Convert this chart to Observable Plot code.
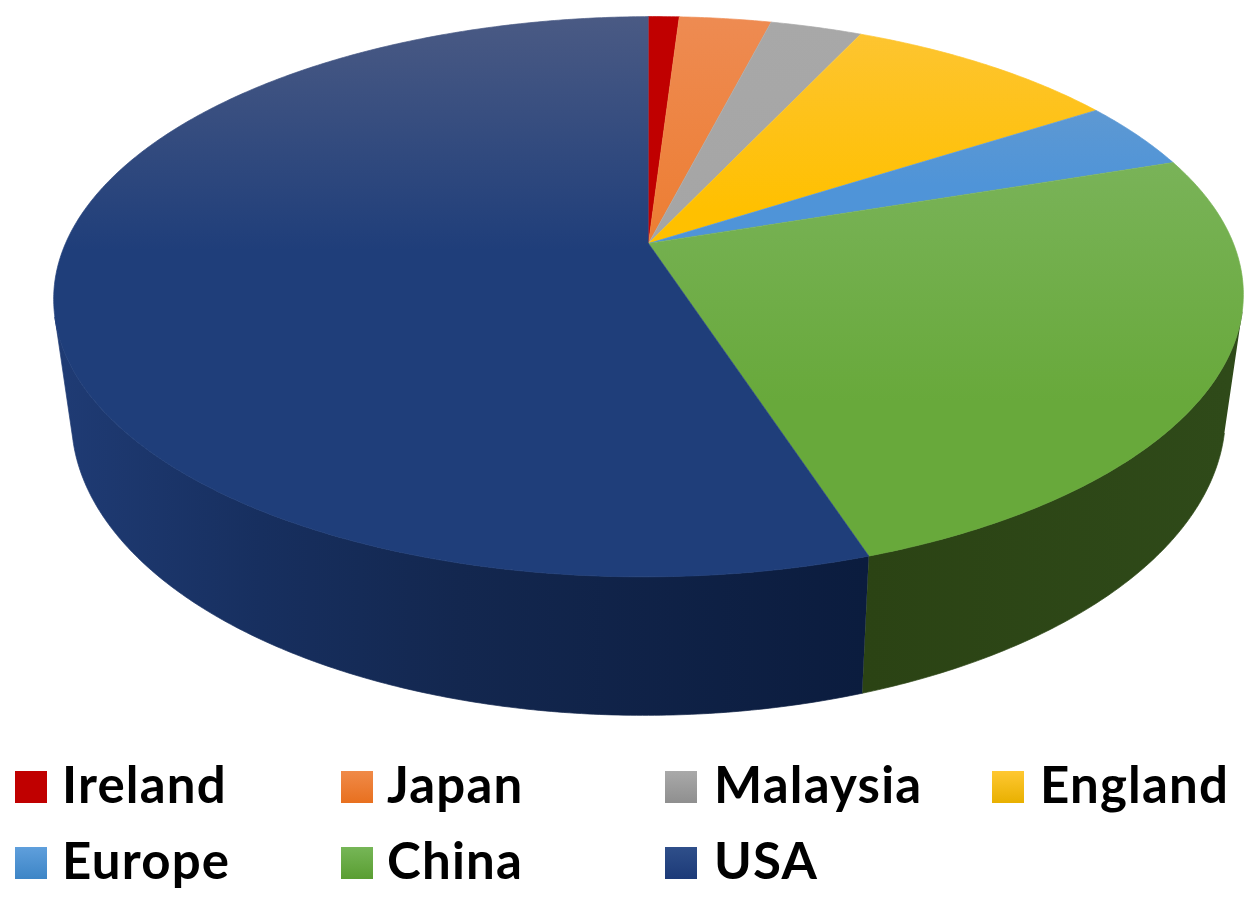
<!DOCTYPE html>
<html>
<head>
<meta charset="utf-8">
<script src="https://cdn.jsdelivr.net/npm/d3@7"></script>
<script src="https://cdn.jsdelivr.net/npm/@observablehq/plot@0.6"></script>
<style>
html,body{margin:0;padding:0;background:#fff;overflow:hidden}
#wrap{position:relative;width:1253px;height:903px}
#wrap svg{position:absolute;left:0;top:0;filter:blur(.5px)}
.item{position:absolute;display:block;font:700 51px Lato,sans-serif;letter-spacing:1.2px;color:#000;line-height:50px;white-space:nowrap;filter:blur(.6px)}
.sw{position:absolute;width:32px;height:32px;filter:blur(.4px)}
</style>
</head>
<body>
<div id="wrap"></div>
<script>
// Data
const categories = ["Ireland", "Japan", "Malaysia", "England", "Europe", "China", "USA"];
const shares = [1, 3, 3, 9, 4, 25, 55];
// Styles: face gradient and side gradient stops
const faceTop = ["#c00000", "#ee8b52", "#a8a8a8", "#fdc535", "#6f9ecc", "#84b96a", "#4a5a84"];
const faceBase = ["#c00000", "#ed7d31", "#a5a5a5", "#ffc000", "#4f94d8", "#68a93b", "#1f3e7a"];
const faceEnd = [250, 250, 250, 210, 185, 400, 250];
const sideStops = {
  USA: [[60, "#1f3b74"], [260, "#172f5f"], [460, "#13274f"], [865, "#0b1c3e"]],
  China: [[865, "#2b4314"], [1230, "#2f4a19"]]
};
const swatchTop = ["#c00000", "#f08a48", "#a9a9a9", "#ffc832", "#5f9fdc", "#76b657", "#2f4f8a"];
const swatchBottom = ["#c00000", "#e8701f", "#8f8f8f", "#e8b000", "#3d85c6", "#5a9e32", "#1c3a78"];

// Perspective camera of the 3-D disc
const tilt = 0.19, scaleX = 584, scaleY = 270, apexX = 648, apexY = 243, roll = 0.004;
const floorX = 0.97, floorY = 1.066, floorDrop = 116.5 / scaleY;
const svgHeight = 745;
const step = Math.PI / 360;

const project = (t, sx = 1, sy = 1, drop = 0) => {
  const w = 1 + tilt * Math.cos(t);
  const u = sx * Math.sin(t) / w;
  return { u, v: sy * Math.cos(t) / w - drop + roll * u * scaleX / scaleY };
};

// Cumulative slice angles, clockwise from the top
const total = d3.sum(shares);
let acc = 0;
const slices = categories.map((name, i) => {
  const start = acc / total * 2 * Math.PI;
  acc += shares[i];
  return { name, start, end: acc / total * 2 * Math.PI };
});

const arc = (a, b) => {
  const n = Math.max(1, Math.ceil(Math.abs(b - a) / step));
  return d3.range(n + 1).map(i => a + (b - a) * i / n);
};

// Where the silhouette of the wall touches each rim
const silhouette = (nx, ny, sx, sy, drop, lo, hi) =>
  d3.greatest(arc(lo, hi), t => {
    const p = project(t, sx, sy, drop);
    return nx * p.u * scaleX - ny * p.v * scaleY;
  });
const rightTop = silhouette(117, 15, 1, 1, 0, 0, Math.PI);
const rightBot = silhouette(117, 15, floorX, floorY, floorDrop, 0, Math.PI);
const leftTop = silhouette(-117, 15, 1, 1, 0, Math.PI, 2 * Math.PI);
const leftBot = silhouette(-117, 15, floorX, floorY, floorDrop, Math.PI, 2 * Math.PI);

const faceRows = slices.flatMap(s => [
  { key: s.name, u: 0, v: 0 },
  ...arc(s.start, s.end).map(t => ({ key: s.name, ...project(t) }))
]);

const wallRows = slices.flatMap(s => {
  const a1 = Math.max(s.start, rightTop), b1 = Math.min(s.end, leftTop);
  const a2 = Math.max(s.start, rightBot), b2 = Math.min(s.end, leftBot);
  if (a1 >= b1 || a2 >= b2) return [];
  const key = s.name + " side";
  return [
    ...arc(a1, b1).map(t => ({ key, ...project(t) })),
    ...arc(b2, a2).map(t => ({ key, ...project(t, floorX, floorY, floorDrop) }))
  ];
});

const colorDomain = [...categories, ...categories.map(c => c + " side")];
const colorRange = colorDomain.map((_, i) => `url(#grad${i})`);
const shape = { x: "u", y: "v", z: "key", fill: "key", stroke: "key", strokeWidth: 0.7, curve: "linear" };

const chart = Plot.plot({
  width: 1253,
  height: svgHeight,
  margin: 0,
  style: { background: "transparent" },
  x: { domain: [-apexX / scaleX, (1253 - apexX) / scaleX], range: [0, 1253], axis: null },
  y: { domain: [apexY / scaleY, (apexY - svgHeight) / scaleY], range: [0, svgHeight], axis: null },
  color: { domain: colorDomain, range: colorRange },
  marks: [
    Plot.line(wallRows, shape),
    Plot.line(faceRows, shape)
  ]
});

// Gradient paint servers used by the colour scale
const defs = d3.select(chart).insert("defs", ":first-child");
const addGradient = (id, x1, y1, x2, y2, stops) => {
  const g = defs.append("linearGradient").attr("id", id).attr("gradientUnits", "userSpaceOnUse")
    .attr("x1", x1).attr("y1", y1).attr("x2", x2).attr("y2", y2);
  stops.forEach(([o, c]) => g.append("stop").attr("offset", o).attr("stop-color", c));
};
categories.forEach((c, i) => {
  addGradient(`grad${i}`, 0, 16, 0, faceEnd[i], [[0, faceTop[i]], [1, faceBase[i]]]);
  const stops = sideStops[c];
  if (stops) {
    const x0 = stops[0][0], x1 = stops[stops.length - 1][0];
    addGradient(`grad${i + categories.length}`, x0, 0, x1, 0,
      stops.map(([x, col]) => [(x - x0) / (x1 - x0), col]));
  }
});

const wrap = document.getElementById("wrap");
wrap.appendChild(chart);

// Legend
const legendSwatchX = [15, 341, 665, 992];
const legendTextX = [62, 387, 714, 1040];
const legendRowY = [771, 847];
categories.forEach((c, i) => {
  const col = i < 4 ? i : i - 4, row = i < 4 ? 0 : 1;
  const sw = document.createElement("div");
  sw.className = "sw";
  sw.style.left = legendSwatchX[col] + "px";
  sw.style.top = legendRowY[row] + "px";
  sw.style.background = `linear-gradient(${swatchTop[i]},${swatchBottom[i]})`;
  wrap.appendChild(sw);
  const t = document.createElement("div");
  t.className = "item";
  t.textContent = c;
  t.style.left = legendTextX[col] + "px";
  t.style.top = legendRowY[row] - 12 + "px";
  wrap.appendChild(t);
});
</script>
</body>
</html>
